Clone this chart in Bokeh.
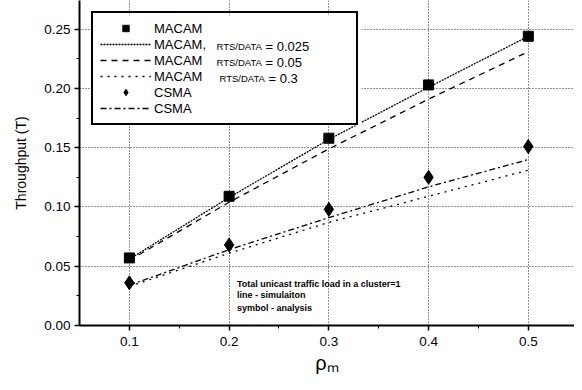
from bokeh.plotting import figure
from bokeh.models import (FixedTicker, PrintfTickFormatter, Legend, LegendItem, Label, Range1d,
                          BoxAnnotation)
from bokeh.embed import file_html
from bokeh.resources import INLINE

# ---- data ----
rho_m = [0.1, 0.2, 0.3, 0.4, 0.5]
macam_analysis = [0.057, 0.109, 0.158, 0.203, 0.244]
macam_sim_0025 = [0.056, 0.108, 0.157, 0.201, 0.244]
macam_sim_005 = [0.055, 0.104, 0.149, 0.191, 0.231]
macam_sim_03 = [0.033, 0.061, 0.087, 0.109, 0.131]
csma_analysis = [0.036, 0.068, 0.098, 0.125, 0.151]
csma_sim = [0.034, 0.064, 0.091, 0.117, 0.140]

x_ticks = [0.1, 0.2, 0.3, 0.4, 0.5]
x_minor = [0.15, 0.25, 0.35, 0.45]
y_ticks = [0.0, 0.05, 0.10, 0.15, 0.20, 0.25]
y_minor = [0.025, 0.075, 0.125, 0.175, 0.225]

FONT = "Liberation Sans"

p = figure(width=574, height=380, output_backend="svg", toolbar_location=None,
           x_range=Range1d(0.05, 0.5463), y_range=Range1d(0.0, 0.2742),
           min_border_left=79, min_border_right=0, min_border_top=0, min_border_bottom=55)
p.outline_line_color = None
p.background_fill_color = "white"

# axes
for ax in (p.xaxis[0], p.yaxis[0]):
    ax.axis_line_width = 2
    ax.axis_line_color = "black"
    ax.major_tick_line_color = "black"
    ax.major_tick_line_width = 1.5
    ax.major_tick_out = 5
    ax.major_tick_in = 0
    ax.minor_tick_line_color = "black"
    ax.minor_tick_out = 3
    ax.minor_tick_in = 0
    ax.major_label_text_font = FONT
    ax.major_label_text_font_size = "13.5px"
    ax.major_label_text_color = "black"
    ax.axis_label_text_color = "black"
    ax.axis_label_text_font = FONT
    ax.axis_label_text_font_style = "normal"

p.xaxis[0].ticker = FixedTicker(ticks=x_ticks, minor_ticks=x_minor)
p.yaxis[0].ticker = FixedTicker(ticks=y_ticks, minor_ticks=y_minor)
p.xaxis[0].formatter = PrintfTickFormatter(format="%.1f")
p.yaxis[0].formatter = PrintfTickFormatter(format="%.2f")
p.xaxis[0].major_label_standoff = 6
p.yaxis[0].major_label_standoff = 4

p.yaxis[0].axis_label = "Throughput (T)"
p.yaxis[0].axis_label_text_font_size = "14px"
p.yaxis[0].axis_label_standoff = 12

p.xaxis[0].axis_label = "ρₘ"
p.xaxis[0].axis_label_text_font_size = "20px"
p.xaxis[0].axis_label_standoff = 3

# grid
for g in (p.xgrid[0], p.ygrid[0]):
    g.grid_line_color = "#222222"
    g.grid_line_dash = "1 2"
    g.grid_line_width = 1
p.ygrid[0].ticker = FixedTicker(ticks=y_ticks[1:])
p.xgrid[0].ticker = FixedTicker(ticks=x_ticks)

# lines
r_l1 = p.line(rho_m, macam_sim_0025, line_color="black", line_width=1.3, line_dash="2 1")
r_l2 = p.line(rho_m, macam_sim_005, line_color="black", line_width=1.3, line_dash="6 5")
r_l3 = p.line(rho_m, macam_sim_03, line_color="black", line_width=1.3, line_dash="2 5")
r_l4 = p.line(rho_m, csma_sim, line_color="black", line_width=1.3, line_dash="6 3 2 3")
r_sq = p.scatter(rho_m, macam_analysis, marker="square", size=10, color="black")
r_di = p.scatter(rho_m, csma_analysis, marker="diamond", size=14, color="black")

# white panel behind the legend (hides the grid there)
LEG_X, LEG_Y, LEG_W, LEG_H = 12, 200, 270, 110
p.add_layout(BoxAnnotation(left=LEG_X, right=LEG_X + LEG_W, bottom=LEG_Y, top=LEG_Y + LEG_H,
                           left_units="screen", right_units="screen",
                           bottom_units="screen", top_units="screen",
                           fill_color="white", fill_alpha=1, line_color=None))

# RTS/DATA parts of legend labels (frame-relative screen units)
rts_rows = [("= 0.025", 279), ("= 0.05", 263), ("= 0.3", 247)]
for i, (val, yy) in enumerate(rts_rows):
    dx = 3 if i == 2 else 0
    p.add_layout(Label(x=137 + dx, y=yy, x_units="screen", y_units="screen", text="RTS/DATA",
                       text_font=FONT, text_font_size="9.5px", text_baseline="middle",
                       text_color="black"))
    p.add_layout(Label(x=186 + dx, y=yy, x_units="screen", y_units="screen", text=val,
                       text_font=FONT, text_font_size="13px", text_baseline="middle",
                       text_color="black"))

legend = Legend(items=[
    LegendItem(label="MACAM", renderers=[r_sq]),
    LegendItem(label="MACAM,", renderers=[r_l1]),
    LegendItem(label="MACAM", renderers=[r_l2]),
    LegendItem(label="MACAM", renderers=[r_l3]),
    LegendItem(label="CSMA", renderers=[r_di]),
    LegendItem(label="CSMA", renderers=[r_l4]),
], location=(LEG_X, LEG_Y), orientation="vertical")
legend.margin = 0
legend.padding = 7
legend.spacing = 0
legend.glyph_width = 51
legend.glyph_height = 16
legend.label_height = 16
legend.label_width = 195
legend.label_standoff = 3
legend.label_text_font = FONT
legend.label_text_font_size = "13px"
legend.label_text_color = "black"
legend.border_line_color = "black"
legend.border_line_alpha = 1
legend.border_line_width = 2
legend.background_fill_alpha = 0
p.add_layout(legend)

# annotation
note_lines = ["Total unicast traffic load in a cluster=1", "line - simulaiton", "symbol - analysis"]
for txt, yy in zip(note_lines, [41.3, 30.3, 18.0]):
    p.add_layout(Label(x=157.5, y=yy, x_units="screen", y_units="screen", text=txt,
                       text_font=FONT, text_font_size="9px", text_font_style="bold",
                       text_baseline="middle", text_color="black"))

open("out.html", "w").write(file_html(p, INLINE))
